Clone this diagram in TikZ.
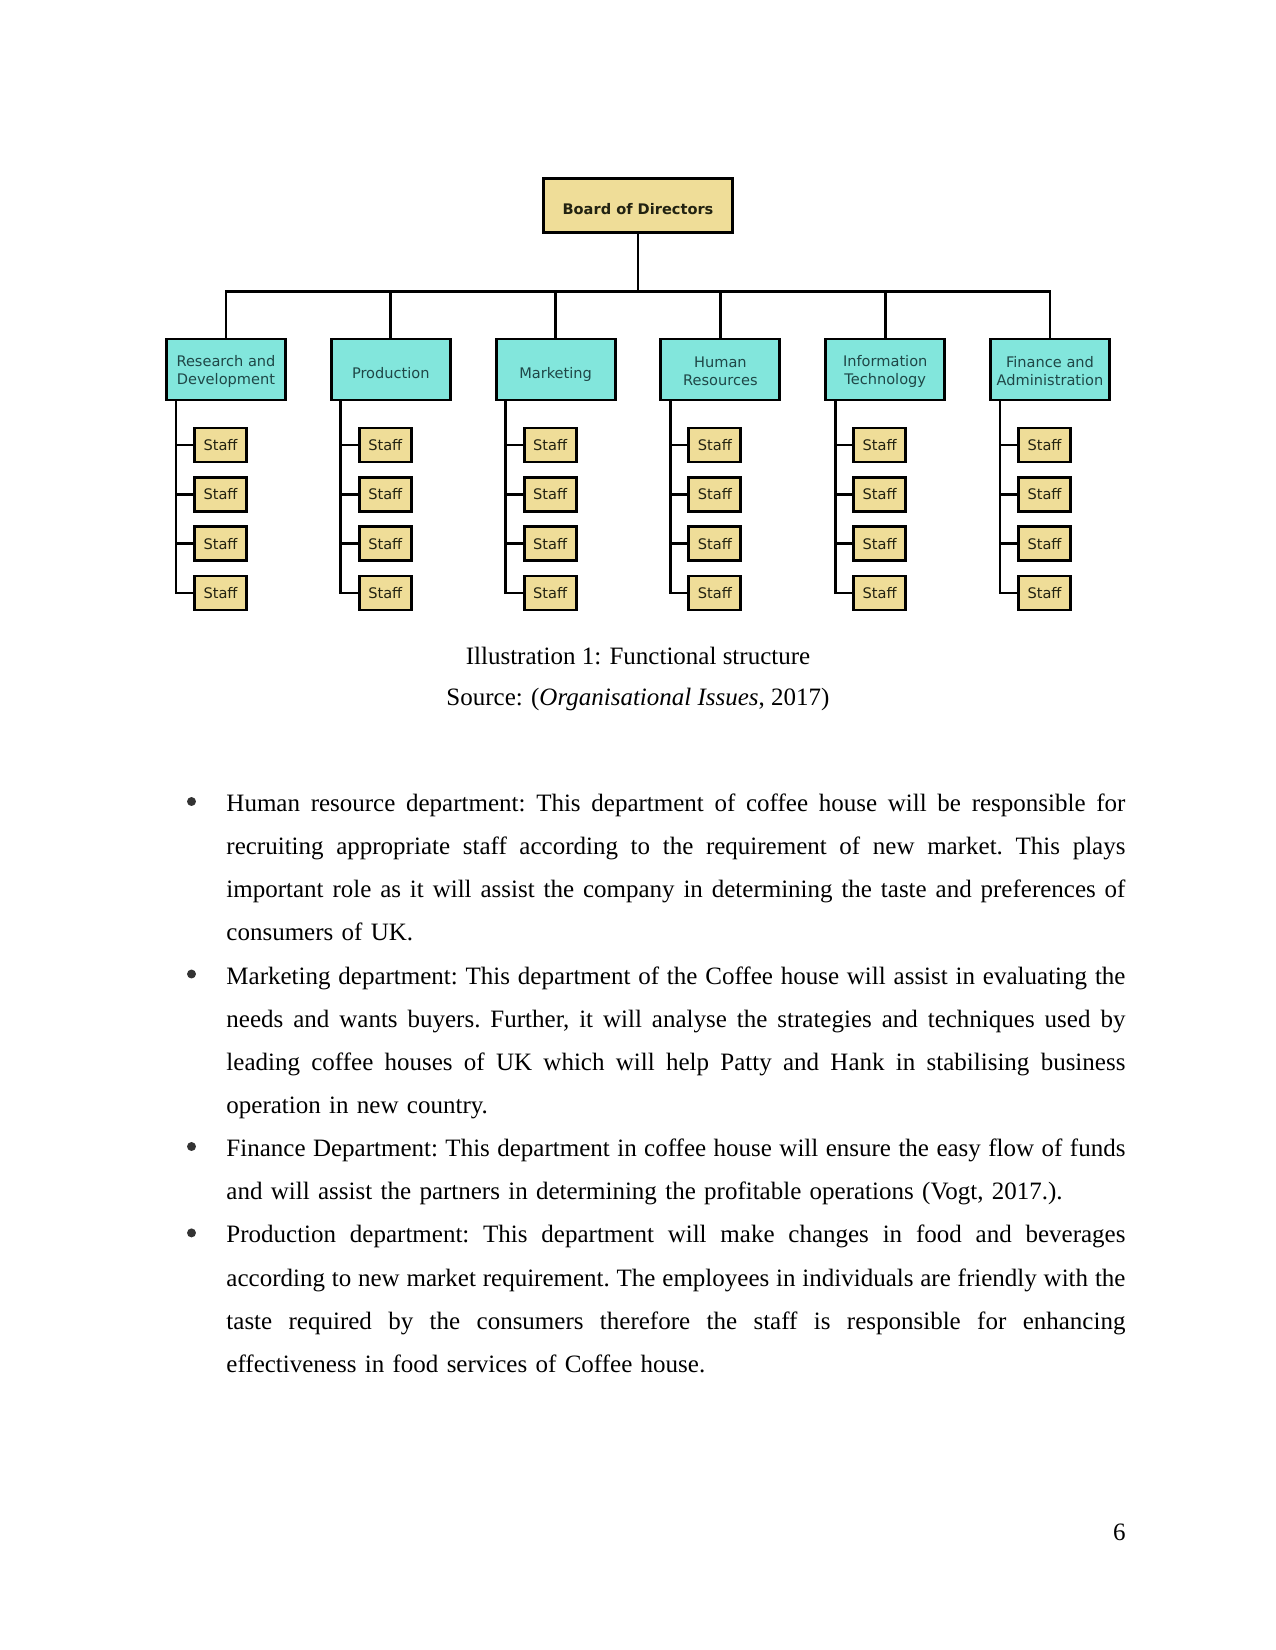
\documentclass[tikz,border=0pt]{standalone}
\usepackage{fontspec}
\setmainfont{Liberation Serif}
\newfontfamily\chartfont{DejaVu Sans}
\definecolor{staffyellow}{HTML}{EFDD98}
\definecolor{deptcyan}{HTML}{82E6DC}
\definecolor{deptink}{HTML}{1F4747}
\definecolor{chartink}{HTML}{222211}
\newlength\bodyw
\setlength\bodyw{431.5pt}
\newcommand\jl[1]{{\spaceskip=3pt plus 8pt minus 1.4pt\relax\makebox[\bodyw][s]{#1}}}
\newcommand\onestrut{\rule[-1.6pt]{0pt}{12.2pt}}
\newcommand\twostrut{\rule{0pt}{7.3pt}}
\begin{document}
\begin{tikzpicture}[x=0.48pt, y=-0.48pt, line width=1.4pt,
  boss/.style={draw, fill=staffyellow, minimum width=90.7pt, minimum height=25.9pt, inner sep=0pt,
    font=\chartfont\bfseries\fontsize{7}{8.6}\selectfont, text=chartink},
  dept/.style={draw, fill=deptcyan, minimum width=57.1pt, minimum height=29.3pt, inner sep=0pt,
    align=center, font=\chartfont\fontsize{7}{8.64}\selectfont, text=deptink},
  staffbox/.style={draw, fill=staffyellow, minimum width=25pt, minimum height=16.3pt, inner sep=0pt,
    font=\chartfont\fontsize{7}{8.6}\selectfont, text=chartink},
  line/.style={anchor=base, inner sep=0pt, font=\fontsize{12}{14}\selectfont},
  dot/.style={circle, fill=black!80, inner sep=0pt, minimum size=4.3pt},
  para/.style={anchor=base west, inner sep=0pt, text width=\bodyw,
    font=\fontsize{12}{20.7}\selectfont\frenchspacing}]
\useasboundingbox[fill=white] (0,0) rectangle (1275,1650);
% The chart: board on top, six departments, four staff under each
\node[boss] (board) at (638,205.5) {\rule{0pt}{8.3pt}Board of Directors};
\foreach \i/\t in {1/{\twostrut Research and\\Development}, 2/{\onestrut Production},
    3/{\onestrut Marketing}, 4/{\twostrut Human\\Resources}, 5/{\twostrut Information\\Technology},
    6/{\twostrut Finance and\\Administration}} {
  \node[dept] (d\i) at ({226+164.8*(\i-1)},369.5) {\t};
  \draw (board.south) -- ++(0,58) -| (d\i.north);
  \coordinate (sp\i) at ([xshift=-24pt]d\i.south);
  \foreach \j in {1,...,4}
    \node[staffbox] (s\i\j) at ({220.5+164.8*(\i-1)},{445+49.33*(\j-1)}) {Staff};
  \draw (sp\i) |- (s\i4.west);
  \foreach \j in {1,2,3} \draw (s\i\j.west) -- (s\i\j.west -| sp\i);
}
% Caption under the chart
\node[line] (cap) at (638,664) {Illustration 1: Functional structure};
\node[line] (src) at (638,705) {Source: (\textit{Organisational Issues}, 2017)};
% The four bullet points
\foreach \k/\y in {1/811.5, 2/984, 3/1156.5, 4/1242.9}
  \node[dot] (b\k) at (191.5,\y-10) {};
\node[para] (p1) at (225,811.5) {%
\jl{Human resource department: This department of coffee house will be responsible for}\\
\jl{recruiting appropriate staff according to the requirement of new market. This plays}\\
\jl{important role as it will assist the company in determining the taste and preferences of}\\
consumers of UK.};
\node[para] (p2) at (225,984) {%
\jl{Marketing department: This department of the Coffee house will assist in evaluating the}\\
\jl{needs and wants buyers. Further, it will analyse the strategies and techniques used by}\\
\jl{leading coffee houses of UK which will help Patty and Hank in stabilising business}\\
operation in new country.};
\node[para] (p3) at (225,1156.5) {%
\jl{Finance Department: This department in coffee house will ensure the easy flow of funds}\\
and will assist the partners in determining the profitable operations (Vogt, 2017.).};
\node[para] (p4) at (225,1242.9) {%
\jl{Production department: This department will make changes in food and beverages}\\
\jl{according to new market requirement. The employees in individuals are friendly with the}\\
\jl{taste required by the consumers therefore the staff is responsible for enhancing}\\
effectiveness in food services of Coffee house.};
% Page number
\node[line, anchor=base east] (pnum) at (1127,1540) {6};
\end{tikzpicture}
\end{document}
